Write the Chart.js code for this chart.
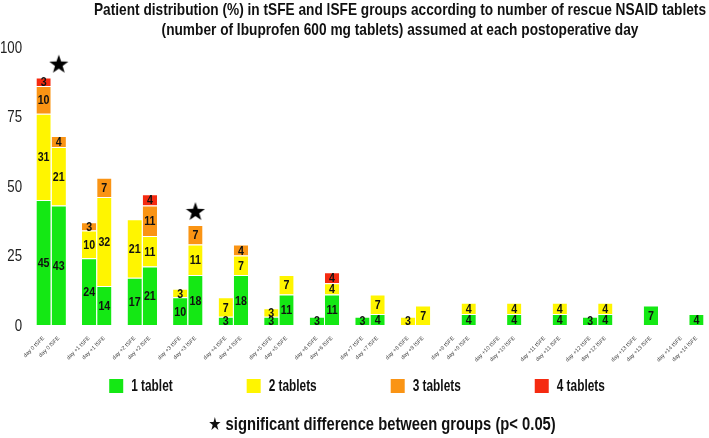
<!DOCTYPE html>
<html>
<head>
<meta charset="utf-8">
<script src="https://cdn.jsdelivr.net/npm/chart.js@4.4.1/dist/chart.umd.min.js"></script>
<style>
    html, body { margin: 0; padding: 0; background: #fff; }
    #wrap { width: 709px; height: 438px; }
</style>
</head>
<body>
<div id="wrap"><canvas id="chart"></canvas></div>
<script>
(function () {
    "use strict";

    const days = ['day 0', 'day +1', 'day +2', 'day +3', 'day +4', 'day +5', 'day +6', 'day +7',
        'day +8', 'day +9', 'day +10', 'day +11', 'day +12', 'day +13', 'day +14'];
    const groups = ['tSFE', 'lSFE'];
    const tabletLabels = ['1 tablet', '2 tablets', '3 tablets', '4 tablets'];
    const tabletColors = ['#14E814', '#FFF500', '#FA9414', '#F52A10'];

    // % of patients per day, tSFE group
    const tSFE1 = [45, 24, 17, 10, 3, 3, 3, 3, 0, 0, 0, 0, 3, 0, 0];
    const tSFE2 = [31, 10, 21, 3, 7, 3, 0, 0, 3, 0, 0, 0, 0, 0, 0];
    const tSFE3 = [10, 3, 0, 0, 0, 0, 0, 0, 0, 0, 0, 0, 0, 0, 0];
    const tSFE4 = [3, 0, 0, 0, 0, 0, 0, 0, 0, 0, 0, 0, 0, 0, 0];
    // % of patients per day, lSFE group
    const lSFE1 = [43, 14, 21, 18, 18, 11, 11, 4, 0, 4, 4, 4, 4, 7, 4];
    const lSFE2 = [21, 32, 11, 11, 7, 7, 4, 7, 7, 4, 4, 4, 4, 0, 0];
    const lSFE3 = [4, 7, 11, 7, 4, 0, 0, 0, 0, 0, 0, 0, 0, 0, 0];
    const lSFE4 = [0, 0, 4, 0, 0, 0, 4, 0, 0, 0, 0, 0, 0, 0, 0];

    // significant differences (star above lSFE bar)
    const sigDays = [0, 3];
    const sigValues = [94, 41];

    const yTicks = [0, 25, 50, 75, 100];

    const titleLines = [
        'Patient distribution (%) in tSFE and lSFE groups according to number of rescue NSAID tablets',
        '(number of Ibuprofen 600 mg tablets) assumed at each postoperative day'
    ];
    const noteText = '\u2605 significant difference between groups (p< 0.05)';

    const FONT = "'Liberation Sans', Arial, 'DejaVu Sans', sans-serif";

    // categories: tSFE, lSFE, then an empty slot between days
    const labels = [];
    days.forEach(function (d, i) {
        labels.push(d + ' ' + groups[0], d + ' ' + groups[1]);
        if (i < days.length - 1) labels.push('');
    });
    const slot = (day, g) => day * 3 + g;

    const tSFE = [tSFE1, tSFE2, tSFE3, tSFE4];
    const lSFE = [lSFE1, lSFE2, lSFE3, lSFE4];

    const datasets = tabletLabels.map(function (name, k) {
        const data = labels.map(() => null);
        days.forEach(function (d, i) {
            data[slot(i, 0)] = tSFE[k][i] || null;
            data[slot(i, 1)] = lSFE[k][i] || null;
        });
        return {
            type: 'bar',
            label: name,
            data: data,
            backgroundColor: tabletColors[k],
            borderColor: '#fff',
            borderWidth: { top: 1, left: 0, right: 0, bottom: 0 },
            borderSkipped: false,
            barPercentage: 0.94,
            categoryPercentage: 1,
            order: 1
        };
    });

    function starImage(size) {
        const c = document.createElement('canvas');
        c.width = c.height = size;
        const g = c.getContext('2d');
        g.fillStyle = '#000';
        g.beginPath();
        for (let i = 0; i < 10; i++) {
            const r = i % 2 ? size * 0.2 : size * 0.5;
            const a = -Math.PI / 2 + i * Math.PI / 5;
            g.lineTo(size / 2 + r * Math.cos(a), size / 2 + r * Math.sin(a) + size * 0.05);
        }
        g.closePath();
        g.fill();
        return c;
    }

    const starData = labels.map(() => null);
    sigDays.forEach(function (d, i) {
        starData[slot(d, 1)] = sigValues[i];
    });
    datasets.push({
        type: 'line',
        label: 'sig',
        data: starData,
        showLine: false,
        pointStyle: starImage(20),
        order: 0
    });

    // condensed text (no narrow font installed)
    function narrowText(ctx, text, x, y, sx, align) {
        ctx.save();
        ctx.translate(x, y);
        ctx.scale(sx, 1);
        ctx.textAlign = align;
        ctx.fillText(text, 0, 0);
        ctx.restore();
    }

    const textPlugin = {
        id: 'textPlugin',
        afterDatasetsDraw(chart) {
            const ctx = chart.ctx;
            ctx.save();
            ctx.font = 'bold 13px ' + FONT;
            ctx.fillStyle = '#111';
            ctx.textBaseline = 'middle';
            chart.data.datasets.forEach(function (ds, i) {
                if (ds.type !== 'bar') return;
                chart.getDatasetMeta(i).data.forEach(function (el, j) {
                    const v = ds.data[j];
                    if (v == null) return;
                    narrowText(ctx, String(v), el.x, (el.y + el.base) / 2 + 1, 0.82, 'center');
                });
            });
            ctx.restore();
        },
        afterDraw(chart) {
            const ctx = chart.ctx;
            const yScale = chart.scales.y;
            ctx.save();
            ctx.textBaseline = 'middle';

            // y tick labels
            ctx.font = '17px ' + FONT;
            ctx.fillStyle = '#222';
            yTicks.forEach(function (v) {
                narrowText(ctx, String(v), 22, yScale.getPixelForValue(v) + 1, 0.78, 'right');
            });
            ctx.fillStyle = '#111';

            // title
            ctx.font = 'bold 17px ' + FONT;
            narrowText(ctx, titleLines[0], 400, 10, 0.805, 'center');
            narrowText(ctx, titleLines[1], 400, 30, 0.805, 'center');

            // legend
            ctx.font = 'bold 16px ' + FONT;
            const sx = 0.74, box = 14, gap = 74, inner = 8;
            const widths = tabletLabels.map(t => box + inner + ctx.measureText(t).width * sx);
            const total = widths.reduce((a, b) => a + b, 0) + gap * (widths.length - 1);
            let x = 357 - total / 2;
            const ly = 386;
            tabletLabels.forEach(function (t, k) {
                ctx.fillStyle = tabletColors[k];
                ctx.fillRect(x, ly - box / 2, box, box);
                ctx.fillStyle = '#111';
                narrowText(ctx, t, x + box + inner, ly + 1, sx, 'left');
                x += widths[k] + gap;
            });

            // note
            ctx.font = 'bold 18px ' + FONT;
            narrowText(ctx, noteText, 382, 425, 0.82, 'center');
            ctx.restore();
        }
    };

    new Chart(document.getElementById('chart'), {
        data: { labels: labels, datasets: datasets },
        plugins: [textPlugin],
        options: {
            responsive: true,
            maintainAspectRatio: false,
            animation: false,
            layout: { padding: { top: 47, right: 5, bottom: 73, left: 0 } },
            plugins: {
                legend: { display: false },
                title: { display: false },
                tooltip: { enabled: false }
            },
            scales: {
                x: {
                    stacked: true,
                    offset: true,
                    grid: { display: false },
                    border: { display: false },
                    afterFit: axis => { axis.height = 40; },
                    ticks: {
                        autoSkip: false,
                        minRotation: 45,
                        maxRotation: 45,
                        padding: 2,
                        color: '#444',
                        font: { family: FONT, size: 5.5 }
                    }
                },
                y: {
                    stacked: true,
                    min: 0,
                    max: 100,
                    grid: { display: false },
                    border: { display: false },
                    afterBuildTicks: axis => { axis.ticks = yTicks.map(v => ({ value: v })); },
                    afterFit: axis => { axis.width = 36; },
                    ticks: { display: false }
                }
            }
        }
    });
})();
</script>
</body>
</html>
